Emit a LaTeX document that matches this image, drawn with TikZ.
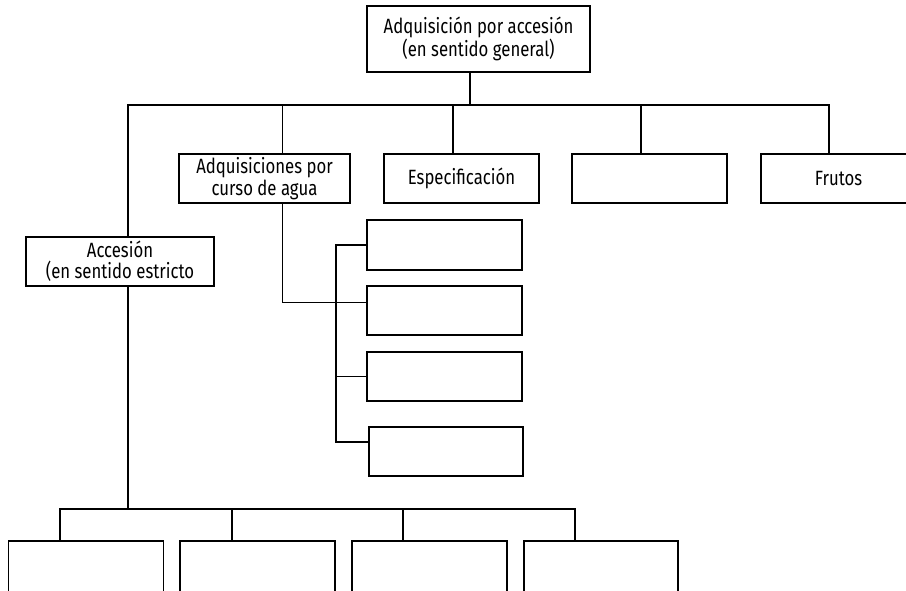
\documentclass[tikz,border=0pt]{standalone}
\usepackage{fontspec}
\setmainfont{Fira Sans}[FakeStretch=0.81]
\begin{document}
\begin{tikzpicture}[x=0.75pt,y=-0.75pt]
	% Styles (MODIFIABLES)
	\def\px{0.75pt}
	\tikzstyle{trait}=[-,line width=0.9pt]
	\tikzstyle{boite}=[draw,line width=0.9pt,inner sep=0pt,outer sep=0pt,align=center,
		minimum width=155*\px,minimum height=49*\px,font=\fontsize{15.5}{16}\selectfont]
	% Niveaux (en pixels)
	\def\NiveauA{39}
	\def\NiveauB{178.5}
	\def\NiveauC{261.5}
	\def\NiveauD{571}
	\def\ColonneS{444.5}
	% Cadre
	\useasboundingbox (0,0) rectangle (906,590);
	\clip (0,0) rectangle (906,590);
	% Noeuds
	\node[boite,minimum width=223*\px,minimum height=66*\px] (racine) at (478.5,\NiveauA) {Adquisición por accesión\\(en sentido general)};
	\node[boite,minimum width=171*\px] (curso) at (264.5,\NiveauB) {Adquisiciones por\\curso de agua};
	\node[boite] (especif) at (461.5,\NiveauB) {Especificación};
	\node[boite] (vide) at (649.5,\NiveauB) {};
	\node[boite] (frutos) at (838.5,\NiveauB) {Frutos};
	\node[boite,minimum width=188*\px] (accesion) at (120,\NiveauC) {Accesión\\(en sentido estricto};
	%
	\node[boite,minimum height=50*\px] (sa) at (\ColonneS,245) {};
	\node[boite] (sb) at (\ColonneS,310.5) {};
	\node[boite] (sc) at (\ColonneS,376.5) {};
	\node[boite,minimum width=154*\px] (sd) at (446,451.5) {};
	%
	\node[boite,minimum height=60*\px] (ba) at (85.75,\NiveauD) {};
	\node[boite,minimum height=60*\px] (bb) at (257.5,\NiveauD) {};
	\node[boite,minimum height=60*\px] (bc) at (429.5,\NiveauD) {};
	\node[boite,minimum height=60*\px,minimum width=154*\px] (bd) at (601,\NiveauD) {};
	% Arcs
	\draw[trait] ([xshift=-8.5*\px]racine.south) -- ++(0,33) coordinate (busA);
	\draw[trait] (busA) -| ([xshift=8*\px]accesion.north);
	\draw[trait] (busA) -| ([xshift=18*\px]curso.north);
	\draw[trait] (busA) -| ([xshift=-8.5*\px]especif.north);
	\draw[trait] (busA) -| ([xshift=-8.5*\px]vide.north);
	\draw[trait] (busA) -| ([xshift=-9.5*\px]frutos.north);
	%
	\draw[trait] ([xshift=18*\px]curso.south) |- ([yshift=8*\px]sb.west);
	\draw[trait] (sa.west) -| ([xshift=-33*\px,yshift=9.5*\px]sd.west) -- ([yshift=9.5*\px]sd.west);
	\draw[trait] (sc.west) -- ++(-31,0);
	%
	\draw[trait] ([xshift=8*\px]accesion.south) -- ++(0,223) coordinate (busB);
	\draw[trait] (busB) -| ([xshift=-25.75*\px]ba.north);
	\draw[trait] (busB) -| ([xshift=-25.5*\px]bb.north);
	\draw[trait] (busB) -| ([xshift=-26.5*\px]bc.north);
	\draw[trait] (busB) -| ([xshift=-26*\px]bd.north);
\end{tikzpicture}
\end{document}
